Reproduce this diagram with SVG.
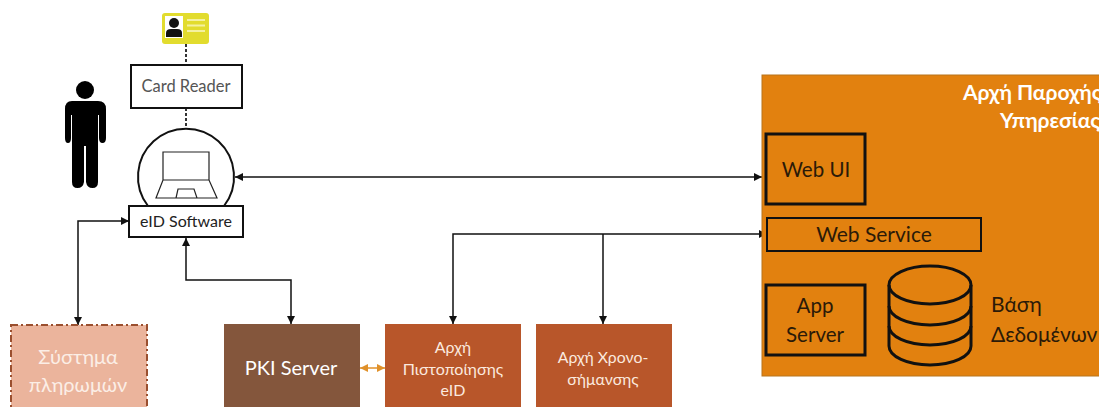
<svg xmlns="http://www.w3.org/2000/svg" width="1099" height="407" viewBox="0 0 1099 407">
<style>
text{font-family:"Lato","Open Sans","Noto Sans",sans-serif;text-anchor:middle}
.c{fill:none;stroke:#111;stroke-width:1.5}
.d{fill:none;stroke:#333;stroke-width:2;stroke-dasharray:3 2}
.w{fill:#fff;stroke:#111;stroke-width:2}
.k{fill:none;stroke:#111;stroke-width:3}
</style>
<defs>
<marker id="a" markerUnits="userSpaceOnUse" markerWidth="8" markerHeight="8" viewBox="0 0 8 8" refX="8" refY="4" orient="auto-start-reverse"><path d="M0 0L8 4L0 8z" fill="#111"/></marker>
<marker id="o" markerUnits="userSpaceOnUse" markerWidth="8" markerHeight="8" viewBox="0 0 8 8" refX="8" refY="4" orient="auto-start-reverse"><path d="M0 0L8 4L0 8z" fill="#e0912a"/></marker>
</defs>
<g id="person" fill="#000"><circle cx="85" cy="90" r="9"/><path d="M72 101H98Q106 101 106 109V138Q106 143 102.500 143Q99 143 99 138V115H98V182Q98 188 92.500 188Q87 188 86 182V146H84V182Q83 188 77.500 188Q72 188 72 182V115H71V138Q71 143 68 143Q65 143 65 138V109Q65 101 72 101Z"/></g>
<g id="connectors">
<path class="d" d="M186 44V65M186 108V129"/>
<path class="c" marker-start="url(#a)" marker-end="url(#a)" d="M235 177H762"/>
<path class="c" marker-start="url(#a)" marker-end="url(#a)" d="M129 221H78V325"/>
<path class="c" marker-start="url(#a)" marker-end="url(#a)" d="M186 238V280H291V324"/>
<path class="c" marker-start="url(#a)" marker-end="url(#a)" d="M453 324V234H767"/>
<path class="c" marker-end="url(#a)" d="M603 234V324"/>
<path fill="none" stroke="#e0912a" stroke-width="1.5" marker-start="url(#o)" marker-end="url(#o)" d="M360 368H385"/>
</g>
<g id="id-card"><rect x="162" y="13" width="47" height="31" rx="3" fill="#e2dc2e"/><rect x="165" y="16" width="18" height="22" fill="#fff"/><circle cx="174" cy="23" r="5" fill="#111"/><path d="M166 37V33Q166 29 171 29H177Q182 29 182 33V37Z" fill="#111"/><path d="M187 20H205M187 25.500H205M187 31H205" stroke="#f4f1a0" stroke-width="1.800"/></g>
<g id="card-reader"><rect class="w" x="131" y="65" width="111" height="43"/><text x="186" y="92" font-size="16.500" fill="#555">Card Reader</text></g>
<g id="laptop"><path d="M148 206A48 48 0 1 1 224 206" fill="#fff" stroke="#111" stroke-width="2"/><path d="M163 180V152H209V180M163 180H209L217 198H156ZM176 198L178 189H194L197 198" fill="none" stroke="#222" stroke-width="1.200"/></g>
<g id="eid-software"><rect class="w" x="129" y="206" width="114" height="31"/><text x="186" y="227" font-size="16" fill="#222">eID Software</text></g>
<g id="payment"><rect x="11" y="325" width="136" height="90" fill="#ebb49c" stroke="#9a4f2f" stroke-width="2" stroke-dasharray="7 3 2 3"/><text x="78" y="364" font-size="20" fill="#fbeee6">Σύστημα</text><text x="78" y="392" font-size="20" fill="#fbeee6">πληρωμών</text></g>
<g id="pki-server"><rect x="224" y="324" width="136" height="90" fill="#84563c"/><text x="291" y="375" font-size="20" fill="#fff">PKI Server</text></g>
<g id="eid-authority"><rect x="385" y="324" width="136" height="90" fill="#b8562a"/><text x="453" y="353" font-size="16" fill="#fbe9df">Αρχή</text><text x="453" y="375" font-size="16" fill="#fbe9df">Πιστοποίησης</text><text x="453" y="396" font-size="16" fill="#fbe9df">eID</text></g>
<g id="timestamp-authority"><rect x="536" y="324" width="136" height="90" fill="#b8562a"/><text x="603" y="363" font-size="15.800" fill="#fbe9df">Αρχή Χρονο-</text><text x="603" y="385" font-size="15.800" fill="#fbe9df">σήμανσης</text></g>
<g id="provider"><rect x="762" y="75" width="345" height="301" fill="#e2810f" stroke="#b8741c"/><text x="963" y="100" font-size="21" font-weight="700" fill="#fff" style="text-anchor:start">Αρχή Παροχής</text><text x="1000" y="128" font-size="21" font-weight="700" fill="#fff" style="text-anchor:start">Υπηρεσίας</text></g>
<g id="web-ui"><rect class="k" x="766" y="134" width="99" height="70"/><text x="816" y="177" font-size="20.500" fill="#2b1a08">Web UI</text></g>
<g id="web-service"><rect x="767" y="218" width="214" height="33" fill="none" stroke="#111" stroke-width="2"/><text x="874" y="242" font-size="21" fill="#2b1a08">Web Service</text></g>
<g id="app-server"><rect class="k" x="766" y="285" width="99" height="70"/><text x="815" y="313" font-size="20.500" fill="#2b1a08">App</text><text x="815" y="342" font-size="20.500" fill="#2b1a08">Server</text></g>
<g id="database"><path class="k" d="M889 285V346A41 19 0 0 0 971 346V285"/><ellipse class="k" cx="930" cy="285" rx="41" ry="19"/><path class="k" d="M889 306A41 19 0 0 0 971 306M889 326A41 19 0 0 0 971 326"/><text x="991" y="312" font-size="21" fill="#2b1a08" style="text-anchor:start">Βάση</text><text x="991" y="342" font-size="21" fill="#2b1a08" style="text-anchor:start">Δεδομένων</text></g>
</svg>
